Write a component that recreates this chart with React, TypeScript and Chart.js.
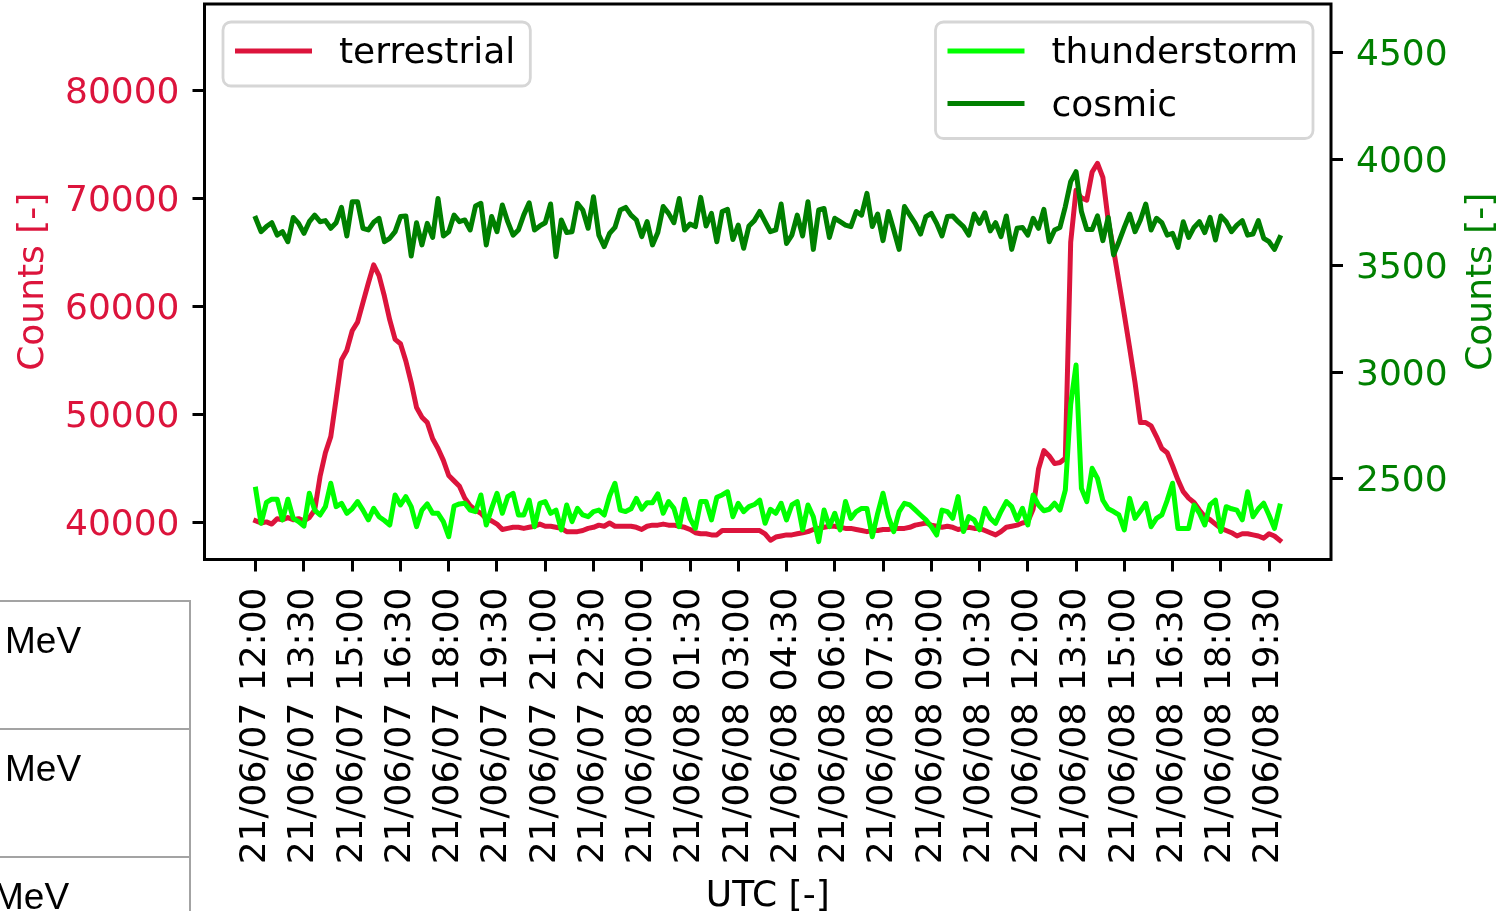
import React, { useEffect, useRef } from "react";
import { Chart, registerables } from "chart.js";

Chart.register(...registerables);

// ---------- data ----------
const TIME_LABELS = [
  "21/06/07 12:00", "21/06/07 13:30", "21/06/07 15:00", "21/06/07 16:30",
  "21/06/07 18:00", "21/06/07 19:30", "21/06/07 21:00", "21/06/07 22:30",
  "21/06/08 00:00", "21/06/08 01:30", "21/06/08 03:00", "21/06/08 04:30",
  "21/06/08 06:00", "21/06/08 07:30", "21/06/08 09:00", "21/06/08 10:30",
  "21/06/08 12:00", "21/06/08 13:30", "21/06/08 15:00", "21/06/08 16:30",
  "21/06/08 18:00", "21/06/08 19:30",
];
const SAMPLES_PER_TICK = 9; // 10-minute samples, one label every 1.5 h

const TERRESTRIAL = [
  40200, 40000, 40100, 39900, 40400, 40300, 40500, 40300, 40400, 40200,
  40500, 41200, 44300, 46500, 48000, 51500, 55100, 56000, 57800, 58600,
  60400, 62200, 63900, 62900, 61000, 58800, 57000, 56600, 55000, 53000,
  50700, 49800, 49300, 47800, 46900, 45800, 44400, 43900, 43400, 42300,
  41600, 41200, 40900, 40400, 40200, 39900, 39400, 39500, 39600, 39600,
  39500, 39600, 39700, 39900, 39700, 39700, 39600, 39500, 39200, 39200,
  39200, 39300, 39500, 39600, 39800, 39700, 40000, 39700, 39700, 39700,
  39700, 39600, 39400, 39700, 39800, 39800, 39900, 39800, 39800, 39700,
  39600, 39400, 39100, 39000, 39000, 38900, 38900, 39300, 39300, 39300,
  39300, 39300, 39300, 39300, 39300, 39000, 38400, 38700, 38800, 38900,
  38900, 39000, 39100, 39200, 39400, 39500, 39600, 39700, 39700, 39600,
  39500, 39500, 39400, 39300, 39200, 39300, 39300, 39400, 39400, 39500,
  39500, 39500, 39600, 39800, 39900, 40000, 39800, 39700, 39600, 39700,
  39600, 39400, 39500, 39600, 39500, 39500, 39300, 39100, 38900, 39200,
  39600, 39700, 39800, 40000, 40100, 41300, 45000, 46700, 46200, 45500,
  45600, 46000, 66000, 70800, 70100, 69900, 72500, 73300, 72000, 68000,
  65300, 62300, 59300, 56200, 53000, 49300, 49300, 49000, 48000, 46900,
  46500, 45300, 44000, 42900, 42300, 41900, 41200, 40600, 40300, 39900,
  39500, 39300, 39100, 38800, 39000, 39000, 38900, 38800, 38600, 39000,
  38800, 38400,
];

const THUNDERSTORM = [
  2452, 2292, 2390, 2405, 2405, 2308, 2405, 2315, 2300, 2279,
  2433, 2354, 2331, 2370, 2480, 2370, 2386, 2339, 2360, 2394,
  2354, 2308, 2362, 2323, 2305, 2284, 2425, 2378, 2417, 2370,
  2276, 2354, 2383, 2339, 2339, 2300, 2229, 2373, 2383, 2386,
  2354, 2347, 2425, 2284, 2362, 2433, 2339, 2417, 2433, 2331,
  2331, 2401, 2276, 2386, 2394, 2339, 2354, 2261, 2378, 2300,
  2362, 2331, 2323, 2347, 2354, 2331, 2420, 2480, 2354, 2347,
  2360, 2409, 2358, 2389, 2389, 2430, 2339, 2394, 2362, 2276,
  2405, 2315, 2268, 2394, 2394, 2308, 2414, 2425, 2440, 2323,
  2386, 2347, 2370, 2380, 2401, 2292, 2358, 2339, 2386, 2308,
  2378, 2394, 2261, 2378, 2323, 2206, 2354, 2276, 2339, 2261,
  2394, 2315, 2347, 2362, 2362, 2229, 2339, 2433, 2323, 2253,
  2347, 2386, 2378, 2355, 2331, 2308, 2276, 2237, 2354, 2347,
  2315, 2417, 2253, 2323, 2308, 2261, 2362, 2315, 2292, 2347,
  2394, 2370, 2308, 2362, 2284, 2425, 2378, 2351, 2358, 2386,
  2354, 2448, 2850, 3035, 2456, 2394, 2550, 2503, 2400, 2360,
  2347, 2331, 2261, 2409, 2315, 2350, 2386, 2276, 2315, 2331,
  2400, 2480, 2268, 2268, 2268, 2378, 2340, 2284, 2380, 2401,
  2253, 2370, 2360, 2354, 2308, 2440, 2323, 2360, 2386, 2330,
  2268, 2373,
];

const COSMIC = [
  3724, 3661, 3685, 3703, 3645, 3661, 3614, 3728, 3700, 3653,
  3708, 3739, 3708, 3713, 3677, 3703, 3775, 3641, 3802, 3802,
  3677, 3669, 3705, 3724, 3614, 3630, 3661, 3732, 3735, 3547,
  3703, 3599, 3700, 3634, 3817, 3641, 3661, 3739, 3708, 3716,
  3669, 3782, 3794, 3599, 3732, 3661, 3786, 3708, 3645, 3669,
  3740, 3797, 3669, 3688, 3703, 3791, 3544, 3716, 3657, 3661,
  3794, 3763, 3677, 3825, 3645, 3591, 3653, 3681, 3763, 3775,
  3739, 3716, 3638, 3708, 3599, 3657, 3779, 3747, 3703, 3817,
  3669, 3697, 3685, 3822, 3688, 3747, 3614, 3756, 3766, 3624,
  3692, 3583, 3688, 3713, 3756, 3708, 3661, 3669, 3791, 3606,
  3645, 3739, 3641, 3802, 3578, 3763, 3770, 3634, 3724, 3708,
  3692, 3685, 3756, 3739, 3841, 3685, 3744, 3619, 3756, 3669,
  3578, 3779, 3739, 3700, 3650, 3732, 3747, 3700, 3641, 3732,
  3735, 3708, 3685, 3645, 3744, 3700, 3750, 3665, 3703, 3638,
  3735, 3578, 3677, 3681, 3645, 3724, 3677, 3766, 3614, 3669,
  3681, 3779, 3896, 3943, 3756, 3671, 3671, 3735, 3619, 3728,
  3552, 3614, 3681, 3744, 3661, 3716, 3791, 3669, 3724, 3703,
  3645, 3653, 3587, 3708, 3634, 3681, 3708, 3657, 3728, 3622,
  3735, 3708, 3661, 3692, 3713, 3645, 3650, 3713, 3630, 3614,
  3578, 3634,
];

const LEFT_TICKS = [40000, 50000, 60000, 70000, 80000];
const RIGHT_TICKS = [2500, 3000, 3500, 4000, 4500];
const SERIES_NAMES = ["terrestrial", "thunderstorm", "cosmic"];
const AXIS_TITLES = { x: "UTC [-]", left: "Counts [-]", right: "Counts [-]" };
const TABLE_CELLS = ["MeV", "MeV", "MeV"];

// ---------- style / layout ----------
const W = 1507;
const H = 911;
const AREA = { left: 204.5, top: 4, right: 1331, bottom: 559.5 };
const X_RANGE = { min: -9.55, max: 200.55 };
const Y_RANGE = { min: 36620, max: 88055 };
const Y1_RANGE = { min: 2122, max: 4730 };
const FONT = "'DejaVu Sans', sans-serif";
const RED = "#dc143c";
const LIME = "#00ff00";
const GREEN = "#008000";
const FONT_SIZE = 36;
const TEXT_DROP = 3; // canvas "middle" sits a little high compared with the reference

const decorPlugin = {
  id: "decor",
  afterDatasetsDraw(chart: any) {
    const { ctx, chartArea: a } = chart;
    ctx.save();
    ctx.strokeStyle = "#000";
    ctx.lineWidth = 3;
    ctx.lineJoin = "miter";
    ctx.strokeRect(a.left, a.top, a.right - a.left, a.bottom - a.top);
    ctx.restore();
  },
  afterDraw(chart: any) {
    const { ctx, chartArea: a } = chart;
    const ds = chart.data.datasets;
    ctx.save();
    ctx.font = `${FONT_SIZE}px ${FONT}`;
    const groups = [
      { names: [SERIES_NAMES[0]], side: "left" },
      { names: [SERIES_NAMES[1], SERIES_NAMES[2]], side: "right" },
    ];
    for (const g of groups) {
      const textW = Math.max(...g.names.map((n) => ctx.measureText(n).width));
      const boxW = 12 + 77 + 27 + textW + 15;
      const boxH = 64 + 52.5 * (g.names.length - 1);
      const bx = g.side === "left" ? a.left + 18.5 : a.right - 18 - boxW;
      const by = a.top + 18;
      ctx.beginPath();
      (ctx as any).roundRect(bx, by, boxW, boxH, 8);
      ctx.fillStyle = "rgba(255,255,255,0.8)";
      ctx.fill();
      ctx.strokeStyle = "#d6d6d6";
      ctx.lineWidth = 2.8;
      ctx.stroke();
      g.names.forEach((n, k) => {
        const d = ds.find((s: any) => s.label === n);
        const cy = by + 29 + 52.5 * k;
        ctx.beginPath();
        ctx.moveTo(bx + 12, cy);
        ctx.lineTo(bx + 12 + 77, cy);
        ctx.strokeStyle = d.borderColor;
        ctx.lineWidth = 5;
        ctx.lineCap = "butt";
        ctx.stroke();
        ctx.fillStyle = "#000";
        ctx.textAlign = "left";
        ctx.textBaseline = "middle";
        ctx.fillText(n, bx + 12 + 77 + 27, cy + TEXT_DROP);
      });
    }
    // right axis title (reads bottom-to-top like the left one)
    ctx.translate(chart.width - 25.5, (a.top + a.bottom) / 2);
    ctx.rotate(-Math.PI / 2);
    ctx.fillStyle = GREEN;
    ctx.textAlign = "center";
    ctx.textBaseline = "middle";
    ctx.fillText(AXIS_TITLES.right, 0, 0);
    ctx.restore();
  },
};

const tickGrid = {
  drawOnChartArea: false,
  drawTicks: true,
  tickLength: 12,
  tickWidth: 3,
  tickColor: "#000",
};

function buildConfig(): any {
  const toPoints = (arr: number[]) => arr.map((v, i) => ({ x: i, y: v }));
  const common = {
    borderWidth: 5,
    pointRadius: 0,
    tension: 0,
    fill: false,
    borderJoinStyle: "round",
    borderCapStyle: "square",
  };
  const font = { family: FONT, size: FONT_SIZE };
  // two-line label with a tiny line height nudges the value down by TEXT_DROP px
  const yFont = { family: FONT, size: FONT_SIZE, lineHeight: `${TEXT_DROP * 2}px` };
  const yLabel = (v: any) => ["", String(v)];
  return {
    type: "line",
    data: {
      datasets: [
        { ...common, label: SERIES_NAMES[0], data: toPoints(TERRESTRIAL), borderColor: RED, yAxisID: "y", order: 3 },
        { ...common, label: SERIES_NAMES[1], data: toPoints(THUNDERSTORM), borderColor: LIME, yAxisID: "y1", order: 2 },
        { ...common, label: SERIES_NAMES[2], data: toPoints(COSMIC), borderColor: GREEN, yAxisID: "y1", order: 1 },
      ],
    },
    options: {
      animation: false,
      responsive: false,
      devicePixelRatio: 1,
      layout: { padding: { top: AREA.top, left: 0, right: 0, bottom: 0 } },
      plugins: { legend: { display: false }, tooltip: { enabled: false } },
      events: [],
      scales: {
        x: {
          type: "linear",
          min: X_RANGE.min,
          max: X_RANGE.max,
          afterBuildTicks: (s: any) => {
            s.ticks = TIME_LABELS.map((_, k) => ({ value: k * SAMPLES_PER_TICK }));
          },
          afterFit: (s: any) => {
            s.height = H - AREA.bottom;
            s.paddingLeft = 0;
            s.paddingRight = 0;
          },
          ticks: {
            autoSkip: false,
            maxRotation: 90,
            minRotation: 90,
            padding: 16,
            color: "#000",
            font,
            callback: (_v: any, i: number) => TIME_LABELS[i],
          },
          grid: tickGrid,
          border: { display: false },
          title: {
            display: true,
            text: AXIS_TITLES.x,
            color: "#000",
            font: { family: FONT, size: FONT_SIZE, lineHeight: 0.8 },
            padding: { top: 0, bottom: 0 },
          },
        },
        y: {
          type: "linear",
          position: "left",
          min: Y_RANGE.min,
          max: Y_RANGE.max,
          afterBuildTicks: (s: any) => {
            s.ticks = LEFT_TICKS.map((v) => ({ value: v }));
          },
          afterFit: (s: any) => {
            s.width = AREA.left;
            s.paddingTop = 0;
            s.paddingBottom = 0;
          },
          ticks: { padding: 13, color: RED, font: yFont, callback: yLabel },
          grid: tickGrid,
          border: { display: false },
          title: {
            display: true,
            text: AXIS_TITLES.left,
            color: RED,
            font,
            padding: { top: 12, bottom: 0 },
          },
        },
        y1: {
          type: "linear",
          position: "right",
          min: Y1_RANGE.min,
          max: Y1_RANGE.max,
          afterBuildTicks: (s: any) => {
            s.ticks = RIGHT_TICKS.map((v) => ({ value: v }));
          },
          afterFit: (s: any) => {
            s.width = W - AREA.right;
            s.paddingTop = 0;
            s.paddingBottom = 0;
          },
          ticks: { padding: 13, color: GREEN, font: yFont, callback: yLabel },
          grid: tickGrid,
          border: { display: false },
          title: { display: false },
        },
      },
    },
    plugins: [decorPlugin],
  };
}

export default function App() {
  const ref = useRef<HTMLCanvasElement>(null);
  useEffect(() => {
    if (!ref.current) return;
    const chart = new Chart(ref.current, buildConfig());
    return () => chart.destroy();
  }, []);

  const cellTextLeft = [5, 5, -7];
  return (
    <div
      style={{
        position: "absolute",
        left: 0,
        top: 0,
        width: W,
        height: H,
        overflow: "hidden",
        background: "#fff",
      }}
    >
      <canvas
        ref={ref}
        width={W}
        height={H}
        style={{ position: "absolute", left: 0, top: 0, width: W, height: H }}
      />
      <div
        style={{
          position: "absolute",
          left: -10,
          top: 600,
          width: 199,
          borderTop: "2px solid #a3a3a3",
          borderRight: "2px solid #a3a3a3",
          height: 320,
        }}
      >
        {TABLE_CELLS.map((t, k) => (
          <div
            key={k}
            style={{
              position: "relative",
              height: 126,
              borderBottom: "2px solid #a3a3a3",
            }}
          >
            <span
              style={{
                position: "absolute",
                left: cellTextLeft[k] + 10,
                top: 20,
                fontFamily: "'Liberation Sans', Arial, sans-serif",
                fontSize: 37,
                lineHeight: 1,
                color: "#000",
                whiteSpace: "nowrap",
              }}
            >
              {t}
            </span>
          </div>
        ))}
      </div>
    </div>
  );
}
